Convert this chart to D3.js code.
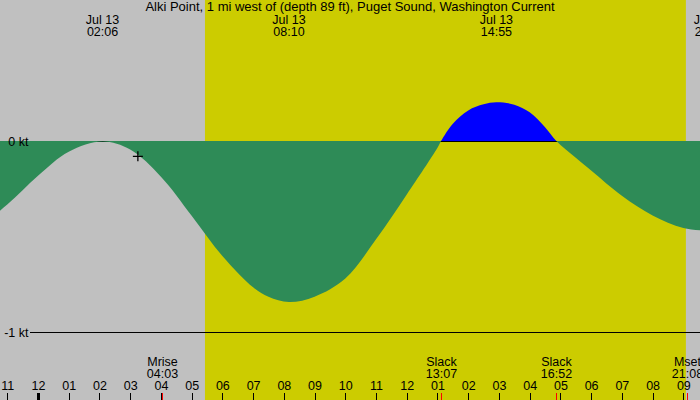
<!DOCTYPE html>
<html>
<head>
<meta charset="utf-8">
<script src="https://cdn.jsdelivr.net/npm/d3@7"></script>
<style>
  body { margin: 0; background: #fff; }
  svg text { font-family: "Liberation Sans", Arial, sans-serif; fill: #000; }
</style>
</head>
<body>
<div class="tide-holder"></div>
<script>
var title = "Alki Point, 1 mi west of (depth 89 ft), Puget Sound, Washington Current";

// current speed (kt), flood positive
var curveTimes = ["07-12 21:00", "07-12 22:00", "07-12 23:00", "07-13 00:00", "07-13 01:00",
                  "07-13 02:06", "07-13 03:00", "07-13 04:00", "07-13 05:00", "07-13 06:00",
                  "07-13 07:00", "07-13 07:30", "07-13 08:10", "07-13 09:00", "07-13 10:00",
                  "07-13 11:00", "07-13 12:00", "07-13 13:00", "07-13 13:07", "07-13 13:30",
                  "07-13 14:00", "07-13 14:30", "07-13 14:55", "07-13 15:30", "07-13 16:00",
                  "07-13 16:30", "07-13 16:52", "07-13 17:30", "07-13 18:00", "07-13 19:00",
                  "07-13 20:00", "07-13 21:00", "07-13 21:53"];
var curveSpeeds = [-0.50, -0.455, -0.333, -0.182, -0.056,
                   -0.003, -0.045, -0.187, -0.391, -0.602,
                   -0.766, -0.815, -0.843, -0.815, -0.72,
                   -0.515, -0.28, -0.035, 0.0, 0.09,
                   0.16, 0.192, 0.203, 0.19, 0.15,
                   0.072, 0.0, -0.088, -0.155, -0.287,
                   -0.39, -0.455, -0.47];

// max / min current events shown along the top
var peakTimes = ["07-13 02:06", "07-13 08:10", "07-13 14:55", "07-13 21:53"];
var peakDates = ["Jul 13", "Jul 13", "Jul 13", "Jul 13"];

// slack and moon events shown along the bottom
var eventTimes = ["07-13 04:03", "07-13 13:07", "07-13 16:52", "07-13 21:08"];
var eventNames = ["Mrise", "Slack", "Slack", "Mset"];

var sunTimes = ["07-13 05:26", "07-13 21:05"];   // sunrise, sunset
var yTicks = [0, -1];
var nowMark = {time: "07-13 03:15", speed: -0.08};

var width = 700, height = 400;
var parse = d3.utcParse("%m-%d %H:%M");
var fmtHM = d3.utcFormat("%H:%M");

var data = curveTimes.map(function(t, i){ return {t: parse(t), v: curveSpeeds[i]}; });

// midnight sits at x=38, 30.73 px per hour
var midnight = parse("07-13 00:00").getTime();
var x = d3.scaleUtc()
    .domain([new Date(midnight - 38 / 30.73 * 3600e3),
             new Date(midnight + (width - 38) / 30.73 * 3600e3)])
    .range([0, width]);

var y = d3.scaleLinear().domain([0, -1]).range([141, 332]);

var svg = d3.select(".tide-holder")
    .append("svg")
    .attr("width", width)
    .attr("height", height)
    .style("display", "block");

// night background, daylight band
svg.append("rect").attr("width", width).attr("height", height).attr("fill", "#c0c0c0");
svg.append("rect")
    .attr("x", x(parse(sunTimes[0])))
    .attr("width", x(parse(sunTimes[1])) - x(parse(sunTimes[0])))
    .attr("height", height)
    .attr("fill", "#cccc00");

// kt lines
svg.selectAll(".kt-line")
    .data(yTicks)
  .enter().append("rect")
    .attr("class", "kt-line")
    .attr("x", 30)
    .attr("y", function(d){ return Math.round(y(d)); })
    .attr("width", width - 30)
    .attr("height", 1)
    .attr("fill", "#000");

// clip areas above / below the zero line
var defs = svg.append("defs");
defs.append("clipPath").attr("id", "below")
  .append("rect").attr("y", y(0)).attr("width", width).attr("height", height - y(0));
defs.append("clipPath").attr("id", "above")
  .append("rect").attr("width", width).attr("height", y(0));

var area = d3.area()
    .x(function(d){ return x(d.t); })
    .y0(y(0))
    .y1(function(d){ return y(d.v); })
    .curve(d3.curveCatmullRom);

svg.append("path").datum(data)
    .attr("clip-path", "url(#below)")
    .attr("fill", "#2e8b57")
    .attr("d", area);
svg.append("path").datum(data)
    .attr("clip-path", "url(#above)")
    .attr("fill", "#0000ff")
    .attr("d", area);

// kt labels sit on top of the fill
svg.selectAll(".kt-label")
    .data(yTicks)
  .enter().append("text")
    .attr("class", "kt-label")
    .attr("x", 28.5)
    .attr("y", function(d){ return y(d) + 5; })
    .attr("text-anchor", "end")
    .style("font-size", "12.5px")
    .text(function(d){ return d + " kt"; });

// "now" cross
svg.append("path")
    .attr("transform", "translate(" + x(parse(nowMark.time)) + "," + y(nowMark.speed) + ")")
    .attr("d", "M-5,0H5M0,-5V5")
    .attr("stroke", "#000")
    .attr("stroke-width", 1.3);

// title
svg.append("text")
    .attr("x", width / 2)
    .attr("y", 11)
    .attr("text-anchor", "middle")
    .style("font-size", "13px")
    .text(title);

// top event labels
var peakGrp = svg.selectAll(".peak")
    .data(peakTimes)
  .enter().append("g")
    .attr("class", "peak")
    .attr("transform", function(d){ return "translate(" + x(parse(d)) + ",0)"; });
peakGrp.append("text").attr("y", 24).attr("text-anchor", "middle").style("font-size", "12.5px")
    .text(function(d, i){ return peakDates[i]; });
peakGrp.append("text").attr("y", 36).attr("text-anchor", "middle").style("font-size", "12.5px")
    .text(function(d){ return fmtHM(parse(d)); });

// hour ticks along the bottom
var hours = d3.utcHour.range(d3.utcHour.ceil(x.domain()[0]), x.domain()[1]);
svg.selectAll(".hour-tick")
    .data(hours)
  .enter().append("rect")
    .attr("class", "hour-tick")
    .attr("x", function(d){ var w = d.getUTCHours() == 0 ? 3 : 1; return Math.round(x(d)) - (w - 1) / 2; })
    .attr("y", 393)
    .attr("width", function(d){ return d.getUTCHours() == 0 ? 3 : 1; })
    .attr("height", 7)
    .attr("fill", "#000");
svg.selectAll(".hour-label")
    .data(hours)
  .enter().append("text")
    .attr("class", "hour-label")
    .attr("x", function(d){ return x(d) + 0.5; })
    .attr("y", 390)
    .attr("text-anchor", "middle")
    .style("font-size", "12.5px")
    .text(d3.utcFormat("%I"));

// bottom events, red ticks
var ev = svg.selectAll(".event")
    .data(eventTimes)
  .enter().append("g")
    .attr("class", "event")
    .attr("transform", function(d){ return "translate(" + Math.round(x(parse(d))) + ",0)"; });
ev.append("rect").attr("y", 393).attr("width", 1).attr("height", 7).attr("fill", "#ff0000");
ev.append("text").attr("x", 0.5).attr("y", 366).attr("text-anchor", "middle").style("font-size", "12.5px")
    .text(function(d, i){ return eventNames[i]; });
ev.append("text").attr("x", 0.5).attr("y", 378).attr("text-anchor", "middle").style("font-size", "12.5px")
    .text(function(d){ return fmtHM(parse(d)); });
</script>
</body>
</html>
